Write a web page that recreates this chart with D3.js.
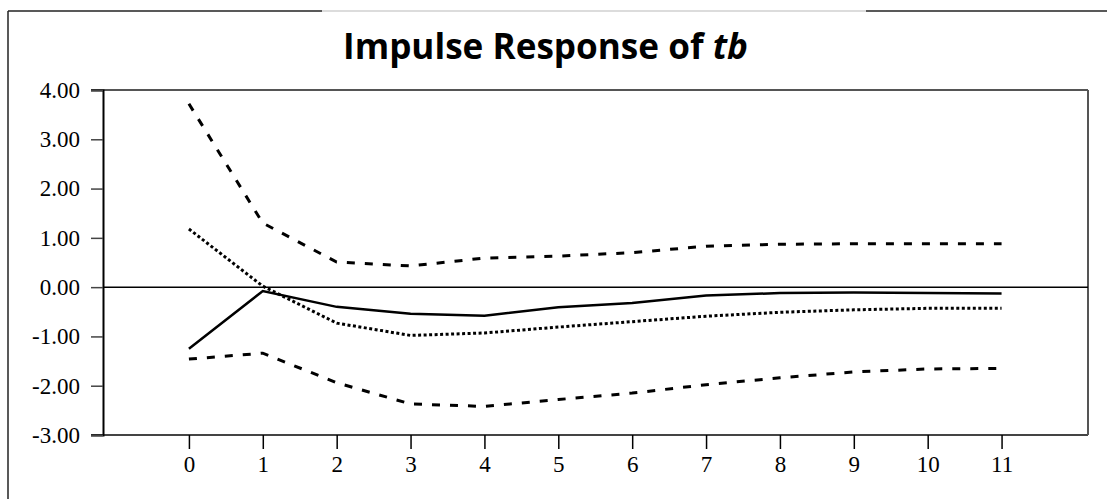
<!DOCTYPE html>
<html><head><meta charset="utf-8">
<script src="https://cdn.jsdelivr.net/npm/d3@7"></script>
<style>html,body{margin:0;padding:0;background:#fff;}svg{display:block;}</style>
</head><body>
<svg id="c" width="1107" height="499"></svg>
<script>
const periods = [0,1,2,3,4,5,6,7,8,9,10,11];
const response = [-1.25,-0.08,-0.40,-0.54,-0.58,-0.41,-0.32,-0.17,-0.12,-0.11,-0.12,-0.13];
const upperBand = [3.72,1.30,0.51,0.43,0.59,0.63,0.70,0.83,0.87,0.88,0.88,0.88];
const lowerBand = [-1.46,-1.34,-1.94,-2.37,-2.42,-2.28,-2.15,-1.98,-1.84,-1.72,-1.66,-1.65];
const altResponse = [1.18,0.02,-0.73,-0.98,-0.93,-0.81,-0.70,-0.59,-0.51,-0.46,-0.43,-0.43];
const yTicks = [4,3,2,1,0,-1,-2,-3];
const titleMain = "Impulse Response of ";
const titleVar = "tb";

const svg = d3.select("#c");
const L = 103, R = 1088, T = 90, B = 435;
const x = d3.scaleLinear().domain([-1.163, 12.17]).range([L, R]);
const y = d3.scaleLinear().domain([-3, 4]).range([B, T]);

// outer frame
svg.append("line").attr("x1",8).attr("x2",8).attr("y1",11).attr("y2",499).attr("stroke","#222").attr("stroke-width",1.5);
svg.append("line").attr("x1",8).attr("x2",322).attr("y1",11).attr("y2",11).attr("stroke","#222").attr("stroke-width",1.5);
svg.append("line").attr("x1",322).attr("x2",866).attr("y1",11).attr("y2",11).attr("stroke","#d0d0d0").attr("stroke-width",1.5);
svg.append("line").attr("x1",866).attr("x2",1107).attr("y1",11).attr("y2",11).attr("stroke","#222").attr("stroke-width",1.5);

// title
const title = svg.append("text").attr("x",545.5).attr("y",59).attr("text-anchor","middle")
  .style("font-family","'Open Sans', Lato, sans-serif").style("font-weight","bold").style("font-size","33px").attr("fill","#000");
title.append("tspan").text(titleMain);
title.append("tspan").style("font-style","italic").text(titleVar);
const tw = title.node().getComputedTextLength();
title.style("font-size", (33 * 405 / tw) + "px");

// frame of plot
svg.append("line").attr("x1",91).attr("x2",R).attr("y1",T).attr("y2",T).attr("stroke","#555").attr("stroke-width",2);
svg.append("line").attr("x1",91).attr("x2",R).attr("y1",B).attr("y2",B).attr("stroke","#444").attr("stroke-width",2);
svg.append("line").attr("x1",R).attr("x2",R).attr("y1",T).attr("y2",B).attr("stroke","#555").attr("stroke-width",2);

const fmt = d => d3.format(".2f")(d).replace("\u2212","-");
// y axis
const yAxis = d3.axisLeft(y).tickValues(yTicks).tickSize(12).tickFormat(fmt);
const gy = svg.append("g").attr("transform",`translate(${L},0)`).call(yAxis);
gy.select(".domain").attr("stroke","#000").attr("stroke-width",2);
gy.selectAll(".tick line").attr("stroke","#444").attr("stroke-width",1.5);
gy.selectAll(".tick text").attr("x",-23).style("font-family","Liberation Serif").style("font-size","23px").attr("fill","#000");

// x axis
const xAxis = d3.axisBottom(x).tickValues(periods).tickSize(14).tickFormat(d3.format("d"));
const gx = svg.append("g").attr("transform",`translate(0,${B})`).call(xAxis);
gx.select(".domain").remove();
gx.selectAll(".tick line").attr("stroke","#000").attr("stroke-width",1.5);
gx.selectAll(".tick text").attr("y",21).style("font-family","Liberation Serif").style("font-size","23px").attr("fill","#000");

// zero line
svg.append("line").attr("x1",L).attr("x2",R).attr("y1",y(0)).attr("y2",y(0)).attr("stroke","#000").attr("stroke-width",1.5);

const line = d3.line().x((d,i)=>x(periods[i])).y(d=>y(d));
svg.append("path").datum(upperBand).attr("d",line).attr("fill","none").attr("stroke","#000").attr("stroke-width",3).attr("stroke-dasharray","8,10");
svg.append("path").datum(lowerBand).attr("d",line).attr("fill","none").attr("stroke","#000").attr("stroke-width",3).attr("stroke-dasharray","8,10");
svg.append("path").datum(altResponse).attr("d",line).attr("fill","none").attr("stroke","#000").attr("stroke-width",3).attr("stroke-dasharray","3,2.5");
svg.append("path").datum(response).attr("d",line).attr("fill","none").attr("stroke","#000").attr("stroke-width",2.5);
</script>
</body></html>
